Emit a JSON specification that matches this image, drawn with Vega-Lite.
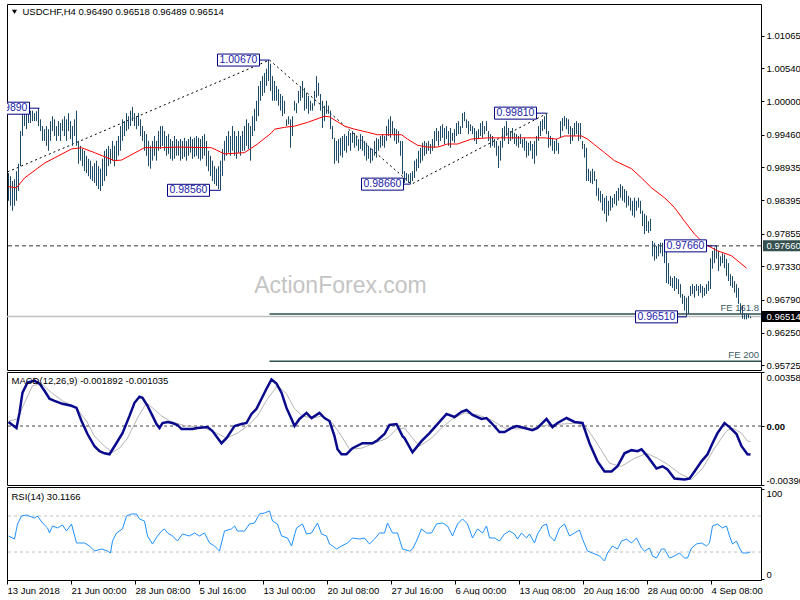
{
"$schema": "https://vega.github.io/schema/vega-lite/v6.json",
"background": "white",
"padding": {"left": 3, "top": 3, "right": 0, "bottom": 0},
"spacing": 2,
"bounds": "flush",
"config": {
  "view": {"stroke": "#000000", "strokeWidth": 1},
  "font": "Liberation Sans",
  "axis": {"labelFont": "Liberation Sans", "labelFontSize": 9.5, "labelColor": "#000000", "tickColor": "#000000", "domain": false, "grid": false, "labelOverlap": false}
},
"datasets": {
  "one": [{}],
  "bars": [
{"i":0,"p":0.9839,"p2":0.9884},{"i":1,"p":0.9831,"p2":0.9879},{"i":2,"p":0.9823,"p2":0.9871},{"i":3,"p":0.9831,"p2":0.9874},{"i":4,"p":0.9839,"p2":0.9887},{"i":5,"p":0.9855,"p2":0.9899},{"i":6,"p":0.9895,"p2":0.9952},{"i":7,"p":0.9944,"p2":0.9985},{"i":8,"p":0.9960,"p2":0.9988},{"i":9,"p":0.9955,"p2":0.9981},
{"i":10,"p":0.9965,"p2":0.9980},{"i":11,"p":0.9965,"p2":0.9985},{"i":12,"p":0.9968,"p2":0.9985},{"i":13,"p":0.9968,"p2":0.9981},{"i":14,"p":0.9968,"p2":0.9984},{"i":15,"p":0.9960,"p2":0.9989},{"i":16,"p":0.9952,"p2":0.9971},{"i":17,"p":0.9936,"p2":0.9960},{"i":18,"p":0.9936,"p2":0.9955},{"i":19,"p":0.9928,"p2":0.9960},
{"i":20,"p":0.9920,"p2":0.9955},{"i":21,"p":0.9936,"p2":0.9968},{"i":22,"p":0.9952,"p2":0.9976},{"i":23,"p":0.9944,"p2":0.9971},{"i":24,"p":0.9936,"p2":0.9960},{"i":25,"p":0.9944,"p2":0.9968},{"i":26,"p":0.9936,"p2":0.9965},{"i":27,"p":0.9952,"p2":0.9971},{"i":28,"p":0.9944,"p2":0.9976},{"i":29,"p":0.9936,"p2":0.9971},
{"i":30,"p":0.9952,"p2":0.9981},{"i":31,"p":0.9939,"p2":0.9968},{"i":32,"p":0.9928,"p2":0.9960},{"i":33,"p":0.9944,"p2":0.9971},{"i":34,"p":0.9928,"p2":0.9985},{"i":35,"p":0.9899,"p2":0.9936},{"i":36,"p":0.9904,"p2":0.9928},{"i":37,"p":0.9895,"p2":0.9923},{"i":38,"p":0.9887,"p2":0.9920},{"i":39,"p":0.9884,"p2":0.9912},
{"i":40,"p":0.9879,"p2":0.9907},{"i":41,"p":0.9874,"p2":0.9904},{"i":42,"p":0.9871,"p2":0.9895},{"i":43,"p":0.9868,"p2":0.9900},{"i":44,"p":0.9863,"p2":0.9904},{"i":45,"p":0.9858,"p2":0.9895},{"i":46,"p":0.9855,"p2":0.9891},{"i":47,"p":0.9863,"p2":0.9907},{"i":48,"p":0.9871,"p2":0.9920},{"i":49,"p":0.9879,"p2":0.9923},
{"i":50,"p":0.9895,"p2":0.9928},{"i":51,"p":0.9899,"p2":0.9923},{"i":52,"p":0.9904,"p2":0.9936},{"i":53,"p":0.9895,"p2":0.9928},{"i":54,"p":0.9904,"p2":0.9936},{"i":55,"p":0.9912,"p2":0.9944},{"i":56,"p":0.9920,"p2":0.9960},{"i":57,"p":0.9936,"p2":0.9971},{"i":58,"p":0.9944,"p2":0.9968},{"i":59,"p":0.9952,"p2":0.9981},
{"i":60,"p":0.9955,"p2":0.9976},{"i":61,"p":0.9960,"p2":0.9985},{"i":62,"p":0.9968,"p2":0.9991},{"i":63,"p":0.9960,"p2":0.9981},{"i":64,"p":0.9955,"p2":0.9976},{"i":65,"p":0.9960,"p2":0.9981},{"i":66,"p":0.9944,"p2":0.9971},{"i":67,"p":0.9936,"p2":0.9960},{"i":68,"p":0.9920,"p2":0.9952},{"i":69,"p":0.9912,"p2":0.9947},
{"i":70,"p":0.9895,"p2":0.9936},{"i":71,"p":0.9891,"p2":0.9928},{"i":72,"p":0.9904,"p2":0.9936},{"i":73,"p":0.9912,"p2":0.9944},{"i":74,"p":0.9904,"p2":0.9936},{"i":75,"p":0.9920,"p2":0.9952},{"i":76,"p":0.9923,"p2":0.9960},{"i":77,"p":0.9928,"p2":0.9960},{"i":78,"p":0.9920,"p2":0.9952},{"i":79,"p":0.9912,"p2":0.9944},
{"i":80,"p":0.9915,"p2":0.9947},{"i":81,"p":0.9907,"p2":0.9939},{"i":82,"p":0.9904,"p2":0.9936},{"i":83,"p":0.9907,"p2":0.9944},{"i":84,"p":0.9912,"p2":0.9939},{"i":85,"p":0.9912,"p2":0.9936},{"i":86,"p":0.9904,"p2":0.9939},{"i":87,"p":0.9907,"p2":0.9936},{"i":88,"p":0.9910,"p2":0.9941},{"i":89,"p":0.9904,"p2":0.9936},
{"i":90,"p":0.9912,"p2":0.9939},{"i":91,"p":0.9917,"p2":0.9943},{"i":92,"p":0.9907,"p2":0.9939},{"i":93,"p":0.9910,"p2":0.9941},{"i":94,"p":0.9912,"p2":0.9944},{"i":95,"p":0.9907,"p2":0.9941},{"i":96,"p":0.9904,"p2":0.9939},{"i":97,"p":0.9907,"p2":0.9944},{"i":98,"p":0.9912,"p2":0.9947},{"i":99,"p":0.9895,"p2":0.9936},
{"i":100,"p":0.9887,"p2":0.9920},{"i":101,"p":0.9879,"p2":0.9912},{"i":102,"p":0.9871,"p2":0.9904},{"i":103,"p":0.9866,"p2":0.9895},{"i":104,"p":0.9863,"p2":0.9891},{"i":105,"p":0.9858,"p2":0.9895},{"i":106,"p":0.9856,"p2":0.9904},{"i":107,"p":0.9879,"p2":0.9923},{"i":108,"p":0.9904,"p2":0.9936},{"i":109,"p":0.9912,"p2":0.9944},
{"i":110,"p":0.9917,"p2":0.9952},{"i":111,"p":0.9912,"p2":0.9944},{"i":112,"p":0.9920,"p2":0.9960},{"i":113,"p":0.9912,"p2":0.9952},{"i":114,"p":0.9907,"p2":0.9944},{"i":115,"p":0.9917,"p2":0.9952},{"i":116,"p":0.9912,"p2":0.9944},{"i":117,"p":0.9920,"p2":0.9952},{"i":118,"p":0.9920,"p2":0.9960},{"i":119,"p":0.9928,"p2":0.9971},
{"i":120,"p":0.9923,"p2":0.9965},{"i":121,"p":0.9904,"p2":0.9960},{"i":122,"p":0.9944,"p2":0.9976},{"i":123,"p":0.9952,"p2":0.9988},{"i":124,"p":0.9968,"p2":1.0001},{"i":125,"p":0.9976,"p2":1.0025},{"i":126,"p":1.0001,"p2":1.0033},{"i":127,"p":1.0009,"p2":1.0041},{"i":128,"p":1.0014,"p2":1.0046},{"i":129,"p":1.0025,"p2":1.0053},
{"i":130,"p":1.0033,"p2":1.0067},{"i":131,"p":1.0017,"p2":1.0061},{"i":132,"p":1.0001,"p2":1.0041},{"i":133,"p":1.0001,"p2":1.0033},{"i":134,"p":1.0001,"p2":1.0025},{"i":135,"p":0.9993,"p2":1.0020},{"i":136,"p":0.9985,"p2":1.0012},{"i":137,"p":0.9976,"p2":1.0009},{"i":138,"p":0.9980,"p2":1.0001},{"i":139,"p":0.9960,"p2":0.9971},
{"i":140,"p":0.9963,"p2":0.9976},{"i":141,"p":0.9925,"p2":0.9971},{"i":142,"p":0.9944,"p2":0.9976},{"i":143,"p":0.9985,"p2":1.0001},{"i":144,"p":0.9981,"p2":0.9997},{"i":145,"p":0.9997,"p2":1.0017},{"i":146,"p":1.0001,"p2":1.0025},{"i":147,"p":1.0006,"p2":1.0033},{"i":148,"p":0.9985,"p2":1.0022},{"i":149,"p":0.9988,"p2":1.0014},
{"i":150,"p":0.9980,"p2":1.0009},{"i":151,"p":0.9985,"p2":1.0001},{"i":152,"p":0.9985,"p2":0.9997},{"i":153,"p":0.9993,"p2":1.0017},{"i":154,"p":1.0006,"p2":1.0041},{"i":155,"p":1.0009,"p2":1.0030},{"i":156,"p":0.9985,"p2":1.0012},{"i":157,"p":0.9957,"p2":1.0001},{"i":158,"p":0.9968,"p2":0.9993},{"i":159,"p":0.9980,"p2":1.0001},
{"i":160,"p":0.9980,"p2":0.9993},{"i":161,"p":0.9955,"p2":0.9985},{"i":162,"p":0.9939,"p2":0.9960},{"i":163,"p":0.9899,"p2":0.9941},{"i":164,"p":0.9904,"p2":0.9936},{"i":165,"p":0.9900,"p2":0.9939},{"i":166,"p":0.9912,"p2":0.9941},{"i":167,"p":0.9909,"p2":0.9944},{"i":168,"p":0.9920,"p2":0.9947},{"i":169,"p":0.9917,"p2":0.9944},
{"i":170,"p":0.9928,"p2":0.9952},{"i":171,"p":0.9920,"p2":0.9949},{"i":172,"p":0.9933,"p2":0.9952},{"i":173,"p":0.9925,"p2":0.9949},{"i":174,"p":0.9928,"p2":0.9944},{"i":175,"p":0.9920,"p2":0.9939},{"i":176,"p":0.9923,"p2":0.9947},{"i":177,"p":0.9920,"p2":0.9944},{"i":178,"p":0.9912,"p2":0.9936},{"i":179,"p":0.9904,"p2":0.9933},
{"i":180,"p":0.9907,"p2":0.9928},{"i":181,"p":0.9900,"p2":0.9925},{"i":182,"p":0.9904,"p2":0.9923},{"i":183,"p":0.9912,"p2":0.9936},{"i":184,"p":0.9909,"p2":0.9941},{"i":185,"p":0.9920,"p2":0.9939},{"i":186,"p":0.9925,"p2":0.9944},{"i":187,"p":0.9928,"p2":0.9947},{"i":188,"p":0.9925,"p2":0.9944},{"i":189,"p":0.9936,"p2":0.9960},
{"i":190,"p":0.9944,"p2":0.9971},{"i":191,"p":0.9941,"p2":0.9976},{"i":192,"p":0.9947,"p2":0.9968},{"i":193,"p":0.9936,"p2":0.9957},{"i":194,"p":0.9931,"p2":0.9955},{"i":195,"p":0.9933,"p2":0.9952},{"i":196,"p":0.9912,"p2":0.9936},{"i":197,"p":0.9882,"p2":0.9936},{"i":198,"p":0.9868,"p2":0.9887},{"i":199,"p":0.9871,"p2":0.9884},
{"i":200,"p":0.9868,"p2":0.9882},{"i":201,"p":0.9866,"p2":0.9884},{"i":202,"p":0.9871,"p2":0.9887},{"i":203,"p":0.9876,"p2":0.9904},{"i":204,"p":0.9887,"p2":0.9907},{"i":205,"p":0.9892,"p2":0.9920},{"i":206,"p":0.9900,"p2":0.9925},{"i":207,"p":0.9904,"p2":0.9933},{"i":208,"p":0.9912,"p2":0.9936},{"i":209,"p":0.9915,"p2":0.9933},
{"i":210,"p":0.9920,"p2":0.9936},{"i":211,"p":0.9915,"p2":0.9931},{"i":212,"p":0.9920,"p2":0.9939},{"i":213,"p":0.9925,"p2":0.9952},{"i":214,"p":0.9936,"p2":0.9957},{"i":215,"p":0.9928,"p2":0.9952},{"i":216,"p":0.9936,"p2":0.9960},{"i":217,"p":0.9941,"p2":0.9963},{"i":218,"p":0.9931,"p2":0.9957},{"i":219,"p":0.9939,"p2":0.9960},
{"i":220,"p":0.9928,"p2":0.9952},{"i":221,"p":0.9925,"p2":0.9957},{"i":222,"p":0.9936,"p2":0.9949},{"i":223,"p":0.9933,"p2":0.9955},{"i":224,"p":0.9944,"p2":0.9965},{"i":225,"p":0.9947,"p2":0.9968},{"i":226,"p":0.9947,"p2":0.9960},{"i":227,"p":0.9957,"p2":0.9981},{"i":228,"p":0.9968,"p2":0.9983},{"i":229,"p":0.9957,"p2":0.9971},
{"i":230,"p":0.9947,"p2":0.9968},{"i":231,"p":0.9952,"p2":0.9963},{"i":232,"p":0.9947,"p2":0.9960},{"i":233,"p":0.9936,"p2":0.9957},{"i":234,"p":0.9931,"p2":0.9952},{"i":235,"p":0.9939,"p2":0.9955},{"i":236,"p":0.9944,"p2":0.9965},{"i":237,"p":0.9941,"p2":0.9968},{"i":238,"p":0.9947,"p2":0.9960},{"i":239,"p":0.9952,"p2":0.9968},
{"i":240,"p":0.9936,"p2":0.9952},{"i":241,"p":0.9925,"p2":0.9947},{"i":242,"p":0.9928,"p2":0.9944},{"i":243,"p":0.9925,"p2":0.9939},{"i":244,"p":0.9912,"p2":0.9936},{"i":245,"p":0.9892,"p2":0.9928},{"i":246,"p":0.9904,"p2":0.9936},{"i":247,"p":0.9925,"p2":0.9957},{"i":248,"p":0.9936,"p2":0.9960},{"i":249,"p":0.9944,"p2":0.9968},
{"i":250,"p":0.9931,"p2":0.9957},{"i":251,"p":0.9936,"p2":0.9952},{"i":252,"p":0.9939,"p2":0.9957},{"i":253,"p":0.9931,"p2":0.9949},{"i":254,"p":0.9928,"p2":0.9947},{"i":255,"p":0.9925,"p2":0.9944},{"i":256,"p":0.9931,"p2":0.9947},{"i":257,"p":0.9925,"p2":0.9939},{"i":258,"p":0.9920,"p2":0.9941},{"i":259,"p":0.9909,"p2":0.9936},
{"i":260,"p":0.9912,"p2":0.9933},{"i":261,"p":0.9920,"p2":0.9936},{"i":262,"p":0.9907,"p2":0.9931},{"i":263,"p":0.9899,"p2":0.9936},{"i":264,"p":0.9912,"p2":0.9944},{"i":265,"p":0.9936,"p2":0.9960},{"i":266,"p":0.9944,"p2":0.9968},{"i":267,"p":0.9952,"p2":0.9971},{"i":268,"p":0.9955,"p2":0.9976},{"i":269,"p":0.9947,"p2":0.9981},
{"i":270,"p":0.9925,"p2":0.9952},{"i":271,"p":0.9928,"p2":0.9944},{"i":272,"p":0.9920,"p2":0.9941},{"i":273,"p":0.9915,"p2":0.9936},{"i":274,"p":0.9920,"p2":0.9939},{"i":275,"p":0.9915,"p2":0.9933},{"i":276,"p":0.9941,"p2":0.9968},{"i":277,"p":0.9952,"p2":0.9973},{"i":278,"p":0.9960,"p2":0.9976},{"i":279,"p":0.9955,"p2":0.9973},
{"i":280,"p":0.9947,"p2":0.9971},{"i":281,"p":0.9931,"p2":0.9960},{"i":282,"p":0.9936,"p2":0.9957},{"i":283,"p":0.9944,"p2":0.9965},{"i":284,"p":0.9947,"p2":0.9968},{"i":285,"p":0.9936,"p2":0.9965},{"i":286,"p":0.9939,"p2":0.9965},{"i":287,"p":0.9923,"p2":0.9936},{"i":288,"p":0.9909,"p2":0.9931},{"i":289,"p":0.9871,"p2":0.9925},
{"i":290,"p":0.9871,"p2":0.9891},{"i":291,"p":0.9868,"p2":0.9887},{"i":292,"p":0.9866,"p2":0.9891},{"i":293,"p":0.9871,"p2":0.9887},{"i":294,"p":0.9847,"p2":0.9874},{"i":295,"p":0.9839,"p2":0.9860},{"i":296,"p":0.9836,"p2":0.9855},{"i":297,"p":0.9823,"p2":0.9850},{"i":298,"p":0.9818,"p2":0.9844},{"i":299,"p":0.9805,"p2":0.9847},
{"i":300,"p":0.9815,"p2":0.9839},{"i":301,"p":0.9823,"p2":0.9847},{"i":302,"p":0.9828,"p2":0.9844},{"i":303,"p":0.9834,"p2":0.9850},{"i":304,"p":0.9831,"p2":0.9855},{"i":305,"p":0.9839,"p2":0.9860},{"i":306,"p":0.9844,"p2":0.9866},{"i":307,"p":0.9839,"p2":0.9863},{"i":308,"p":0.9836,"p2":0.9858},{"i":309,"p":0.9828,"p2":0.9855},
{"i":310,"p":0.9831,"p2":0.9847},{"i":311,"p":0.9823,"p2":0.9844},{"i":312,"p":0.9815,"p2":0.9839},{"i":313,"p":0.9812,"p2":0.9844},{"i":314,"p":0.9823,"p2":0.9839},{"i":315,"p":0.9828,"p2":0.9844},{"i":316,"p":0.9818,"p2":0.9839},{"i":317,"p":0.9798,"p2":0.9823},{"i":318,"p":0.9785,"p2":0.9818},{"i":319,"p":0.9790,"p2":0.9815},
{"i":320,"p":0.9787,"p2":0.9806},{"i":321,"p":0.9790,"p2":0.9810},{"i":322,"p":0.9749,"p2":0.9774},{"i":323,"p":0.9742,"p2":0.9771},{"i":324,"p":0.9745,"p2":0.9766},{"i":325,"p":0.9749,"p2":0.9769},{"i":326,"p":0.9754,"p2":0.9771},{"i":327,"p":0.9749,"p2":0.9771},{"i":328,"p":0.9738,"p2":0.9769},{"i":329,"p":0.9706,"p2":0.9766},
{"i":330,"p":0.9704,"p2":0.9738},{"i":331,"p":0.9701,"p2":0.9717},{"i":332,"p":0.9698,"p2":0.9714},{"i":333,"p":0.9693,"p2":0.9717},{"i":334,"p":0.9696,"p2":0.9714},{"i":335,"p":0.9688,"p2":0.9712},{"i":336,"p":0.9682,"p2":0.9704},{"i":337,"p":0.9672,"p2":0.9688},{"i":338,"p":0.9661,"p2":0.9685},{"i":339,"p":0.9651,"p2":0.9682},
{"i":340,"p":0.9656,"p2":0.9685},{"i":341,"p":0.9685,"p2":0.9701},{"i":342,"p":0.9688,"p2":0.9704},{"i":343,"p":0.9682,"p2":0.9701},{"i":344,"p":0.9693,"p2":0.9704},{"i":345,"p":0.9685,"p2":0.9701},{"i":346,"p":0.9690,"p2":0.9704},{"i":347,"p":0.9682,"p2":0.9701},{"i":348,"p":0.9685,"p2":0.9698},{"i":349,"p":0.9688,"p2":0.9704},
{"i":350,"p":0.9693,"p2":0.9709},{"i":351,"p":0.9696,"p2":0.9746},{"i":352,"p":0.9729,"p2":0.9758},{"i":353,"p":0.9738,"p2":0.9763},{"i":354,"p":0.9745,"p2":0.9766},{"i":355,"p":0.9725,"p2":0.9758},{"i":356,"p":0.9733,"p2":0.9749},{"i":357,"p":0.9738,"p2":0.9754},{"i":358,"p":0.9730,"p2":0.9752},{"i":359,"p":0.9717,"p2":0.9745},
{"i":360,"p":0.9709,"p2":0.9738},{"i":361,"p":0.9701,"p2":0.9720},{"i":362,"p":0.9698,"p2":0.9717},{"i":363,"p":0.9690,"p2":0.9709},{"i":364,"p":0.9682,"p2":0.9704},{"i":365,"p":0.9672,"p2":0.9698},{"i":366,"p":0.9656,"p2":0.9673},{"i":367,"p":0.9648,"p2":0.9669},{"i":368,"p":0.9647,"p2":0.9656},{"i":369,"p":0.9647,"p2":0.9656},
{"i":370,"p":0.9649,"p2":0.9656},{"i":371,"p":0.96489,"p2":0.96518}
  ],
  "ma": [
{"i":0,"p":0.9862},{"i":4,"p":0.9860},{"i":8,"p":0.9876},{"i":18,"p":0.9900},{"i":31.5,"p":0.9923},{"i":36.5,"p":0.9925},{"i":43,"p":0.9917},{"i":53,"p":0.9904},{"i":56.5,"p":0.9905},{"i":68,"p":0.9925},{"i":76.5,"p":0.9925},{"i":84.5,"p":0.9926},{"i":101.5,"p":0.9925},{"i":108,"p":0.9915},{"i":118,"p":0.9917},{"i":124.5,"p":0.9931},{"i":131.5,"p":0.9949},{"i":133,"p":0.9955},{"i":138,"p":0.9958},{"i":143,"p":0.9960},{"i":149.5,"p":0.9966},{"i":158,"p":0.9976},{"i":160.5,"p":0.9975},{"i":168,"p":0.9960},{"i":173,"p":0.9955},{"i":179.5,"p":0.9950},{"i":184.5,"p":0.9946},{"i":196.5,"p":0.9946},{"i":199.5,"p":0.9939},{"i":204.5,"p":0.9929},{"i":209.5,"p":0.9926},{"i":214.5,"p":0.9926},{"i":219.5,"p":0.9931},{"i":224.5,"p":0.9931},{"i":231.5,"p":0.9939},{"i":239.5,"p":0.9941},{"i":249.5,"p":0.9941},{"i":259.5,"p":0.9941},{"i":268,"p":0.9941},{"i":274,"p":0.9939},{"i":278,"p":0.9944},{"i":286.5,"p":0.9944},{"i":289.5,"p":0.9939},{"i":298,"p":0.9917},{"i":303,"p":0.9904},{"i":311.5,"p":0.9891},{"i":316.5,"p":0.9876},{"i":321.5,"p":0.9860},{"i":328,"p":0.9844},{"i":333,"p":0.9828},{"i":338,"p":0.9806},{"i":343,"p":0.9785},{"i":348,"p":0.9769},{"i":354.5,"p":0.9758},{"i":361.5,"p":0.9750},{"i":369,"p":0.9730}
  ],
  "zig": [
{"i":-0.5,"p":0.98857},{"i":130.5,"p":1.0067},{"i":201.5,"p":0.9866},{"i":269.5,"p":0.9981}
  ],
  "boxes": [
{"lbl":"1.00670","p":1.0067,"i":104.5,"i2":125.5},
{"lbl":"0.99890","p":0.9989,"i":-10.5,"i2":10.5},
{"lbl":"0.98560","p":0.9856,"i":79.5,"i2":100.5},
{"lbl":"0.98660","p":0.9866,"i":176.5,"i2":197.5},
{"lbl":"0.99810","p":0.9981,"i":243,"i2":264},
{"lbl":"0.97660","p":0.9766,"i":328,"i2":349},
{"lbl":"0.96510","p":0.9651,"i":313.5,"i2":334.5}
  ],
  "conn": [
{"i":125.5,"i2":130.5,"p":1.0067},{"i":10.5,"i2":15.5,"p":0.9989},{"i":100.5,"i2":106,"p":0.9856},{"i":197.5,"i2":201,"p":0.9866},{"i":264,"i2":269,"p":0.9981},{"i":349,"i2":354,"p":0.9766},{"i":334.5,"i2":339,"p":0.9651}
  ],
  "fe": [
{"t":"FE 161.8","p":0.96558,"i":130.5,"i2":376.25},
{"t":"FE 200","p":0.9579,"i":130.5,"i2":376.25}
  ],
  "hl": [
{"t":"0.97660","p":0.9766,"i":377.25,"i2":400},
{"t":"0.96514","p":0.96514,"i":376.25,"i2":400}
  ],
  "macd": [
{"i":0,"p":0.00027},{"i":4,"p":-0.00013},{"i":5.5,"p":0.00087},{"i":7,"p":0.00221},{"i":9.5,"p":0.00288},{"i":13,"p":0.00301},{"i":15.5,"p":0.00281},{"i":18,"p":0.00234},{"i":20.5,"p":0.00181},{"i":23,"p":0.00167},{"i":27,"p":0.00147},{"i":31.5,"p":0.00134},{"i":34,"p":0.0012},{"i":36.5,"p":0.00033},{"i":39.5,"p":-0.00053},{"i":43,"p":-0.00134},{"i":45.5,"p":-0.00167},{"i":48,"p":-0.00181},{"i":50.5,"p":-0.00187},{"i":53,"p":-0.00134},{"i":57,"p":-0.00047},{"i":60.5,"p":0.00067},{"i":63,"p":0.00154},{"i":65.5,"p":0.00194},{"i":67,"p":0.00187},{"i":69.5,"p":0.00134},{"i":72,"p":0.00067},{"i":74,"p":0.00013},{"i":75.5,"p":-0.00013},{"i":77,"p":0.0002},{"i":79.5,"p":0.00027},{"i":82,"p":0.0002},{"i":84.5,"p":0.00007},{"i":86.5,"p":-0.0002},{"i":92,"p":-0.0002},{"i":94.5,"p":-0.00013},{"i":99.5,"p":-0.00007},{"i":102,"p":-0.00033},{"i":106.5,"p":-0.00114},{"i":109,"p":-0.0008},{"i":113,"p":0},{"i":116.5,"p":0.00013},{"i":119,"p":0.0002},{"i":121.5,"p":0.0008},{"i":124,"p":0.00114},{"i":126.5,"p":0.00181},{"i":129,"p":0.00247},{"i":131.5,"p":0.00308},{"i":134,"p":0.00281},{"i":136.5,"p":0.00221},{"i":139,"p":0.0012},{"i":141.5,"p":0.00047},{"i":143,"p":0},{"i":145.5,"p":0.00047},{"i":149,"p":0.00087},{"i":151.5,"p":0.00053},{"i":155.5,"p":0.00087},{"i":158,"p":0.00053},{"i":160.5,"p":0.00033},{"i":163,"p":-0.00067},{"i":164.5,"p":-0.00154},{"i":166.5,"p":-0.00187},{"i":169,"p":-0.00187},{"i":172,"p":-0.00147},{"i":177,"p":-0.00114},{"i":182,"p":-0.00114},{"i":184.5,"p":-0.00094},{"i":188,"p":-0.00053},{"i":190.5,"p":0.00007},{"i":194,"p":0.00013},{"i":197,"p":-0.00067},{"i":198,"p":-0.0008},{"i":202,"p":-0.00174},{"i":206.5,"p":-0.001},{"i":210.5,"p":-0.00047},{"i":214.5,"p":0.00013},{"i":219,"p":0.0008},{"i":223,"p":0.0006},{"i":226.5,"p":0.00094},{"i":229,"p":0.00107},{"i":232,"p":0.00074},{"i":236.5,"p":0.00047},{"i":239,"p":0.00053},{"i":241.5,"p":0.0002},{"i":245.5,"p":-0.0004},{"i":248,"p":-0.0004},{"i":251.5,"p":-0.00013},{"i":254,"p":0},{"i":258,"p":-0.00013},{"i":262,"p":-0.00027},{"i":264.5,"p":-0.00013},{"i":269,"p":0.00047},{"i":272,"p":-0.00007},{"i":274.5,"p":0.0002},{"i":279,"p":0.00053},{"i":283,"p":0.00027},{"i":287,"p":0.0002},{"i":290.5,"p":-0.00114},{"i":294.5,"p":-0.00234},{"i":298,"p":-0.00301},{"i":301.5,"p":-0.00301},{"i":304.5,"p":-0.00267},{"i":308,"p":-0.00181},{"i":311.5,"p":-0.0016},{"i":314.5,"p":-0.00167},{"i":316.5,"p":-0.00154},{"i":319.5,"p":-0.00201},{"i":324,"p":-0.00281},{"i":327,"p":-0.00267},{"i":329.5,"p":-0.00288},{"i":333,"p":-0.00348},{"i":338,"p":-0.00354},{"i":340.5,"p":-0.00348},{"i":343,"p":-0.00301},{"i":346.5,"p":-0.00234},{"i":349.5,"p":-0.00187},{"i":352,"p":-0.00114},{"i":354.5,"p":-0.00047},{"i":358,"p":0.0002},{"i":360.5,"p":-0.00007},{"i":364,"p":-0.00053},{"i":366.5,"p":-0.00134},{"i":369.5,"p":-0.00187},{"i":371,"p":-0.001892}
  ],
  "sig": [
{"i":0,"p":0.00033},{"i":4.5,"p":0.00047},{"i":8,"p":0.00154},{"i":12,"p":0.00267},{"i":16.5,"p":0.00281},{"i":21.5,"p":0.00221},{"i":27,"p":0.00167},{"i":34,"p":0.0012},{"i":39,"p":0.00033},{"i":43,"p":-0.00067},{"i":48,"p":-0.00134},{"i":52,"p":-0.00174},{"i":55.5,"p":-0.00147},{"i":59.5,"p":-0.0008},{"i":64.5,"p":0.00053},{"i":69,"p":0.00154},{"i":72,"p":0.0012},{"i":76.5,"p":0.00067},{"i":81.5,"p":0.00027},{"i":89,"p":0},{"i":98,"p":-0.00013},{"i":104,"p":-0.00047},{"i":109,"p":-0.0008},{"i":114.5,"p":-0.00047},{"i":119.5,"p":0},{"i":124.5,"p":0.00067},{"i":129.5,"p":0.00181},{"i":134.5,"p":0.00267},{"i":139,"p":0.00214},{"i":143,"p":0.00114},{"i":147,"p":0.00067},{"i":152,"p":0.00053},{"i":157,"p":0.00067},{"i":162,"p":0.0002},{"i":166.5,"p":-0.00067},{"i":170.5,"p":-0.00154},{"i":176.5,"p":-0.00147},{"i":183,"p":-0.00114},{"i":189.5,"p":-0.0008},{"i":194,"p":-0.0002},{"i":198,"p":-0.00013},{"i":202,"p":-0.0008},{"i":205.5,"p":-0.00134},{"i":211.5,"p":-0.0008},{"i":216.5,"p":-0.00013},{"i":222,"p":0.00047},{"i":228,"p":0.00087},{"i":234.5,"p":0.00074},{"i":241.5,"p":0.0004},{"i":248,"p":-0.00013},{"i":254.5,"p":-0.0002},{"i":263,"p":-0.00013},{"i":269.5,"p":0.00007},{"i":276.5,"p":0.00013},{"i":284.5,"p":0.0002},{"i":289.5,"p":-0.0002},{"i":294.5,"p":-0.0012},{"i":300.5,"p":-0.00247},{"i":306.5,"p":-0.00267},{"i":313,"p":-0.00214},{"i":319,"p":-0.00181},{"i":324.5,"p":-0.00214},{"i":329.5,"p":-0.00254},{"i":335.5,"p":-0.00314},{"i":341.5,"p":-0.00354},{"i":347,"p":-0.00281},{"i":353,"p":-0.00147},{"i":359,"p":-0.00033},{"i":362,"p":-0.00013},{"i":366.5,"p":-0.00047},{"i":369.5,"p":-0.001},{"i":371,"p":-0.001035}
  ],
  "rsi": [
{"i":0,"p":47.8},{"i":3,"p":44.4},{"i":4.5,"p":61.1},{"i":6.5,"p":70},{"i":9,"p":71.1},{"i":13,"p":67.8},{"i":14.5,"p":70},{"i":17,"p":62.2},{"i":19.5,"p":56.7},{"i":20.5,"p":51.1},{"i":22,"p":58.9},{"i":24.5,"p":56.7},{"i":27,"p":60},{"i":29,"p":53.3},{"i":31.5,"p":61.1},{"i":34,"p":40},{"i":35.5,"p":40},{"i":38,"p":40},{"i":40.5,"p":36.7},{"i":43,"p":31.1},{"i":46.5,"p":33.3},{"i":49.5,"p":31.1},{"i":51,"p":28.9},{"i":52,"p":42.2},{"i":54,"p":51.1},{"i":57,"p":55.6},{"i":59,"p":70},{"i":61.5,"p":72.2},{"i":64,"p":72.2},{"i":65.5,"p":66.7},{"i":68,"p":64.4},{"i":69.5,"p":47.8},{"i":72,"p":38.9},{"i":74.5,"p":47.8},{"i":76.5,"p":53.3},{"i":78,"p":55.6},{"i":79.5,"p":51.1},{"i":82,"p":47.8},{"i":84.5,"p":42.2},{"i":87,"p":50},{"i":90.5,"p":47.8},{"i":93,"p":51.1},{"i":95.5,"p":47.8},{"i":98,"p":51.1},{"i":100.5,"p":40},{"i":103,"p":36.7},{"i":105.5,"p":31.1},{"i":108,"p":53.3},{"i":111.5,"p":55.6},{"i":113,"p":58.9},{"i":114.5,"p":53.3},{"i":118,"p":53.3},{"i":120.5,"p":61.1},{"i":123,"p":62.2},{"i":125.5,"p":72.2},{"i":128,"p":73.3},{"i":130.5,"p":75.6},{"i":132,"p":64.4},{"i":134.5,"p":61.1},{"i":136.5,"p":47.8},{"i":139.5,"p":45.6},{"i":141.5,"p":36.7},{"i":144,"p":56.7},{"i":147,"p":61.1},{"i":149,"p":50},{"i":151.5,"p":51.1},{"i":154.5,"p":62.2},{"i":156.5,"p":50},{"i":159,"p":47.8},{"i":160.5,"p":38.9},{"i":162,"p":36.7},{"i":164,"p":33.3},{"i":166.5,"p":36.7},{"i":169.5,"p":40},{"i":172,"p":45.6},{"i":175.5,"p":44.4},{"i":178,"p":45.6},{"i":180.5,"p":38.9},{"i":183,"p":44.4},{"i":185.5,"p":51.1},{"i":188,"p":51.1},{"i":189.5,"p":62.2},{"i":192,"p":51.1},{"i":194.5,"p":51.1},{"i":197,"p":33.3},{"i":200.5,"p":31.1},{"i":202,"p":33.3},{"i":204,"p":42.2},{"i":206.5,"p":55.6},{"i":209,"p":51.1},{"i":211.5,"p":51.1},{"i":214,"p":61.1},{"i":217,"p":62.2},{"i":219.5,"p":58.9},{"i":222,"p":47.8},{"i":224.5,"p":61.1},{"i":227,"p":66.7},{"i":229.5,"p":61.1},{"i":232,"p":45.6},{"i":234.5,"p":55.6},{"i":237,"p":51.1},{"i":239,"p":58.9},{"i":240.5,"p":45.6},{"i":243,"p":45.6},{"i":245.5,"p":42.2},{"i":248,"p":50},{"i":250.5,"p":53.3},{"i":253,"p":50},{"i":254.5,"p":44.4},{"i":256.5,"p":51.1},{"i":259,"p":45.6},{"i":260.5,"p":50},{"i":263,"p":40},{"i":264.5,"p":50},{"i":267,"p":58.9},{"i":269,"p":61.1},{"i":270.5,"p":47.8},{"i":273,"p":42.2},{"i":275.5,"p":56.7},{"i":278,"p":61.1},{"i":280.5,"p":47.8},{"i":283,"p":51.1},{"i":285.5,"p":54.4},{"i":287,"p":44.4},{"i":289.5,"p":31.1},{"i":292,"p":28.9},{"i":295.5,"p":25.6},{"i":298,"p":20},{"i":299.5,"p":28.9},{"i":302,"p":36.7},{"i":304.5,"p":33.3},{"i":306.5,"p":42.2},{"i":309,"p":44.4},{"i":311.5,"p":40},{"i":314,"p":45.6},{"i":316.5,"p":34.4},{"i":318,"p":31.1},{"i":320.5,"p":34.4},{"i":322,"p":25.6},{"i":324,"p":23.3},{"i":326.5,"p":33.3},{"i":328,"p":33.3},{"i":330.5,"p":23.3},{"i":333,"p":25.6},{"i":335.5,"p":28.9},{"i":338,"p":23.3},{"i":339.5,"p":23.3},{"i":341.5,"p":34.4},{"i":344,"p":38.9},{"i":346.5,"p":40},{"i":349,"p":36.7},{"i":350.5,"p":40},{"i":352,"p":58.9},{"i":354.5,"p":61.1},{"i":357,"p":56.7},{"i":359,"p":58.9},{"i":360.5,"p":47.8},{"i":362,"p":38.9},{"i":364,"p":42.2},{"i":365.5,"p":34.4},{"i":367,"p":28.9},{"i":369.5,"p":28.9},{"i":371,"p":30.1}
  ]
},
"vconcat": [
{
  "width": 754, "height": 366,
  "resolve": {"axis": {"y": "independent"}},
  "layer": [
    {"data": {"name": "one"},
     "mark": {"type": "text", "align": "center", "baseline": "middle", "fontSize": 23, "font": "Liberation Sans", "color": "#c4c4c4"},
     "encoding": {"x": {"datum": 166, "type": "quantitative", "scale": {"domain": [-0.75, 376.25], "nice": false, "zero": false}, "axis": null},
                  "y": {"datum": 0.9701, "type": "quantitative", "scale": {"domain": [0.95649, 1.01578], "nice": false, "zero": false}, "axis": null},
                  "text": {"value": "ActionForex.com"}}},
    {"data": {"name": "one"},
     "mark": {"type": "rule", "color": "#333333", "strokeDash": [4, 3], "strokeWidth": 1},
     "encoding": {"y": {"datum": 0.9766, "type": "quantitative", "scale": {"domain": [0.95649, 1.01578], "nice": false, "zero": false}, "axis": null}}},
    {"data": {"name": "one"},
     "mark": {"type": "rule", "color": "#c0c0c0", "strokeWidth": 1.5},
     "encoding": {"y": {"datum": 0.96514, "type": "quantitative", "scale": {"domain": [0.95649, 1.01578], "nice": false, "zero": false}, "axis": null}}},
    {"data": {"name": "fe"},
     "mark": {"type": "rule", "color": "#2f4f4f", "strokeWidth": 1.5},
     "encoding": {"x": {"field": "i", "type": "quantitative", "scale": {"domain": [-0.75, 376.25], "nice": false, "zero": false}, "axis": null},
                  "x2": {"field": "i2"},
                  "y": {"field": "p", "type": "quantitative", "scale": {"domain": [0.95649, 1.01578], "nice": false, "zero": false}, "axis": null}}},
    {"data": {"name": "fe"},
     "mark": {"type": "text", "align": "right", "baseline": "bottom", "dx": -2, "dy": -1, "fontSize": 9.5, "color": "#3a5a64"},
     "encoding": {"x": {"field": "i2", "type": "quantitative", "scale": {"domain": [-0.75, 376.25], "nice": false, "zero": false}, "axis": null},
                  "y": {"field": "p", "type": "quantitative", "scale": {"domain": [0.95649, 1.01578], "nice": false, "zero": false}, "axis": null},
                  "text": {"field": "t"}}},
    {"data": {"name": "zig"},
     "mark": {"type": "line", "color": "#000000", "strokeWidth": 1, "strokeDash": [2, 3], "clip": true},
     "encoding": {"x": {"field": "i", "type": "quantitative", "scale": {"domain": [-0.75, 376.25], "nice": false, "zero": false}, "axis": null},
                  "y": {"field": "p", "type": "quantitative", "scale": {"domain": [0.95649, 1.01578], "nice": false, "zero": false}, "axis": null}}},
    {"data": {"name": "bars"},
     "mark": {"type": "rule", "color": "#1d4b67", "strokeWidth": 1},
     "encoding": {"x": {"field": "i", "type": "quantitative", "scale": {"domain": [-0.75, 376.25], "nice": false, "zero": false}, "axis": null},
                  "y": {"field": "p", "type": "quantitative", "scale": {"domain": [0.95649, 1.01578], "nice": false, "zero": false},
                        "axis": {"orient": "right", "title": null, "values": [1.01065, 1.0054, 1.0, 0.9946, 0.98935, 0.98395, 0.97855, 0.9733, 0.9679, 0.9625, 0.95725], "format": ".5f", "tickSize": 3, "labelPadding": 2, "labelOverlap": false, "labelFlush": false, "labelSeparation": 0}},
                  "y2": {"field": "p2"}}},
    {"data": {"name": "ma"},
     "mark": {"type": "line", "color": "#ff0000", "strokeWidth": 1},
     "encoding": {"x": {"field": "i", "type": "quantitative", "scale": {"domain": [-0.75, 376.25], "nice": false, "zero": false}, "axis": null},
                  "y": {"field": "p", "type": "quantitative", "scale": {"domain": [0.95649, 1.01578], "nice": false, "zero": false}, "axis": null}}},
    {"data": {"name": "conn"},
     "mark": {"type": "rule", "color": "#000080", "strokeWidth": 1, "clip": true},
     "encoding": {"x": {"field": "i", "type": "quantitative", "scale": {"domain": [-0.75, 376.25], "nice": false, "zero": false}, "axis": null},
                  "x2": {"field": "i2"},
                  "y": {"field": "p", "type": "quantitative", "scale": {"domain": [0.95649, 1.01578], "nice": false, "zero": false}, "axis": null}}},
    {"data": {"name": "boxes"},
     "mark": {"type": "rect", "fill": "#ffffff", "stroke": "#000080", "strokeWidth": 1, "height": 12, "clip": true},
     "encoding": {"x": {"field": "i", "type": "quantitative", "scale": {"domain": [-0.75, 376.25], "nice": false, "zero": false}, "axis": null},
                  "x2": {"field": "i2"},
                  "y": {"field": "p", "type": "quantitative", "scale": {"domain": [0.95649, 1.01578], "nice": false, "zero": false}, "axis": null}}},
    {"data": {"name": "boxes"},
     "mark": {"type": "text", "align": "left", "baseline": "middle", "dx": 2, "fontSize": 10.5, "color": "#2222aa", "clip": true},
     "encoding": {"x": {"field": "i", "type": "quantitative", "scale": {"domain": [-0.75, 376.25], "nice": false, "zero": false}, "axis": null},
                  "y": {"field": "p", "type": "quantitative", "scale": {"domain": [0.95649, 1.01578], "nice": false, "zero": false}, "axis": null},
                  "text": {"field": "lbl"}}},
    {"data": {"name": "one"},
     "mark": {"type": "point", "shape": "triangle-down", "filled": true, "size": 26, "color": "#000000", "opacity": 1},
     "encoding": {"x": {"datum": 3, "type": "quantitative", "scale": {"domain": [-0.75, 376.25], "nice": false, "zero": false}, "axis": null},
                  "y": {"datum": 1.0145, "type": "quantitative", "scale": {"domain": [0.95649, 1.01578], "nice": false, "zero": false}, "axis": null}}},
    {"data": {"name": "one"},
     "mark": {"type": "text", "align": "left", "baseline": "middle", "fontSize": 9.5, "color": "#000000"},
     "encoding": {"x": {"datum": 7, "type": "quantitative", "scale": {"domain": [-0.75, 376.25], "nice": false, "zero": false}, "axis": null},
                  "y": {"datum": 1.0145, "type": "quantitative", "scale": {"domain": [0.95649, 1.01578], "nice": false, "zero": false}, "axis": null},
                  "text": {"value": "USDCHF,H4  0.96490 0.96518 0.96489 0.96514"}}},
    {"data": {"name": "hl"},
     "mark": {"type": "rect", "height": 11},
     "encoding": {"x": {"field": "i", "type": "quantitative", "scale": {"domain": [-0.75, 376.25], "nice": false, "zero": false}, "axis": null},
                  "x2": {"field": "i2"},
                  "y": {"field": "p", "type": "quantitative", "scale": {"domain": [0.95649, 1.01578], "nice": false, "zero": false}, "axis": null},
                  "fill": {"field": "t", "type": "nominal", "scale": {"domain": ["0.97660", "0.96514"], "range": ["#35504f", "#000000"]}, "legend": null}}},
    {"data": {"name": "hl"},
     "mark": {"type": "text", "align": "left", "baseline": "middle", "fontSize": 9.5, "color": "#ffffff"},
     "encoding": {"x": {"datum": 379, "type": "quantitative", "scale": {"domain": [-0.75, 376.25], "nice": false, "zero": false}, "axis": null},
                  "y": {"field": "p", "type": "quantitative", "scale": {"domain": [0.95649, 1.01578], "nice": false, "zero": false}, "axis": null},
                  "text": {"field": "t"}}}
  ]
},
{
  "width": 754, "height": 113,
  "layer": [
    {"data": {"name": "one"},
     "mark": {"type": "rule", "color": "#444444", "strokeDash": [3, 3], "strokeWidth": 1},
     "encoding": {"y": {"datum": 0, "type": "quantitative", "scale": {"domain": [-0.003908, 0.00358], "nice": false, "zero": false}}}},
    {"data": {"name": "sig"},
     "mark": {"type": "line", "color": "#b5b5b5", "strokeWidth": 1},
     "encoding": {"x": {"field": "i", "type": "quantitative", "scale": {"domain": [-0.75, 376.25], "nice": false, "zero": false}, "axis": null},
                  "y": {"field": "p", "type": "quantitative", "scale": {"domain": [-0.003908, 0.00358], "nice": false, "zero": false}}}},
    {"data": {"name": "macd"},
     "mark": {"type": "line", "color": "#0a0a8c", "strokeWidth": 2.5},
     "encoding": {"x": {"field": "i", "type": "quantitative", "scale": {"domain": [-0.75, 376.25], "nice": false, "zero": false}, "axis": null},
                  "y": {"field": "p", "type": "quantitative", "scale": {"domain": [-0.003908, 0.00358], "nice": false, "zero": false},
                        "axis": {"orient": "right", "title": null, "values": [0.00358, 0, -0.003908], "labelExpr": "datum.value > 0.001 ? '0.00358' : (datum.value < -0.001 ? '-0.003908' : '0.00')", "tickSize": 3, "labelPadding": 2, "labelFlush": 1, "labelOverlap": false,
                                 "labelFontWeight": {"condition": {"test": "datum.value == 0", "value": "bold"}, "value": "normal"}}}}},
    {"data": {"name": "one"},
     "mark": {"type": "text", "align": "left", "baseline": "middle", "fontSize": 9.5, "color": "#000000"},
     "encoding": {"x": {"datum": 1.5, "type": "quantitative", "scale": {"domain": [-0.75, 376.25], "nice": false, "zero": false}, "axis": null},
                  "y": {"datum": 0.00301, "type": "quantitative", "scale": {"domain": [-0.003908, 0.00358], "nice": false, "zero": false}},
                  "text": {"value": "MACD(12,26,9) -0.001892 -0.001035"}}}
  ]
},
{
  "width": 754, "height": 93,
  "layer": [
    {"data": {"name": "one"},
     "mark": {"type": "rule", "color": "#c0c0c0", "strokeDash": [3, 3], "strokeWidth": 1},
     "encoding": {"y": {"datum": 70, "type": "quantitative", "scale": {"domain": [-1.1, 102.2], "nice": false, "zero": false}}}},
    {"data": {"name": "one"},
     "mark": {"type": "rule", "color": "#c0c0c0", "strokeDash": [3, 3], "strokeWidth": 1},
     "encoding": {"y": {"datum": 30, "type": "quantitative", "scale": {"domain": [-1.1, 102.2], "nice": false, "zero": false}}}},
    {"data": {"name": "rsi"},
     "mark": {"type": "line", "color": "#1e90ff", "strokeWidth": 1},
     "encoding": {"x": {"field": "i", "type": "quantitative", "scale": {"domain": [-0.75, 376.25], "nice": false, "zero": false},
                        "axis": {"orient": "bottom", "title": null, "values": [-0.75, 31.25, 63.25, 95.25, 127.25, 159.25, 191.25, 223.25, 255.25, 287.25, 319.25, 351.25],
                                 "labelExpr": "['13 Jun 2018','21 Jun 00:00','28 Jun 08:00','5 Jul 16:00','13 Jul 00:00','20 Jul 08:00','27 Jul 16:00','6 Aug 00:00','13 Aug 08:00','20 Aug 16:00','28 Aug 00:00','4 Sep 08:00'][round((datum.value + 0.75) / 32)]",
                                 "labelAlign": "left", "tickSize": 4, "labelPadding": 1, "labelOverlap": false, "labelFlush": false, "labelBound": false}},
                  "y": {"field": "p", "type": "quantitative", "scale": {"domain": [-1.1, 102.2], "nice": false, "zero": false},
                        "axis": {"orient": "right", "title": null, "values": [100, 70, 30, 0], "format": "d", "tickSize": 3, "labelPadding": 2, "labelFlush": 3, "labelOverlap": false}}}},
    {"data": {"name": "one"},
     "mark": {"type": "text", "align": "left", "baseline": "middle", "fontSize": 9.5, "color": "#000000"},
     "encoding": {"x": {"datum": 1.5, "type": "quantitative", "scale": {"domain": [-0.75, 376.25], "nice": false, "zero": false}},
                  "y": {"datum": 91.4, "type": "quantitative", "scale": {"domain": [-1.1, 102.2], "nice": false, "zero": false}},
                  "text": {"value": "RSI(14) 30.1166"}}}
  ]
}
]
}
